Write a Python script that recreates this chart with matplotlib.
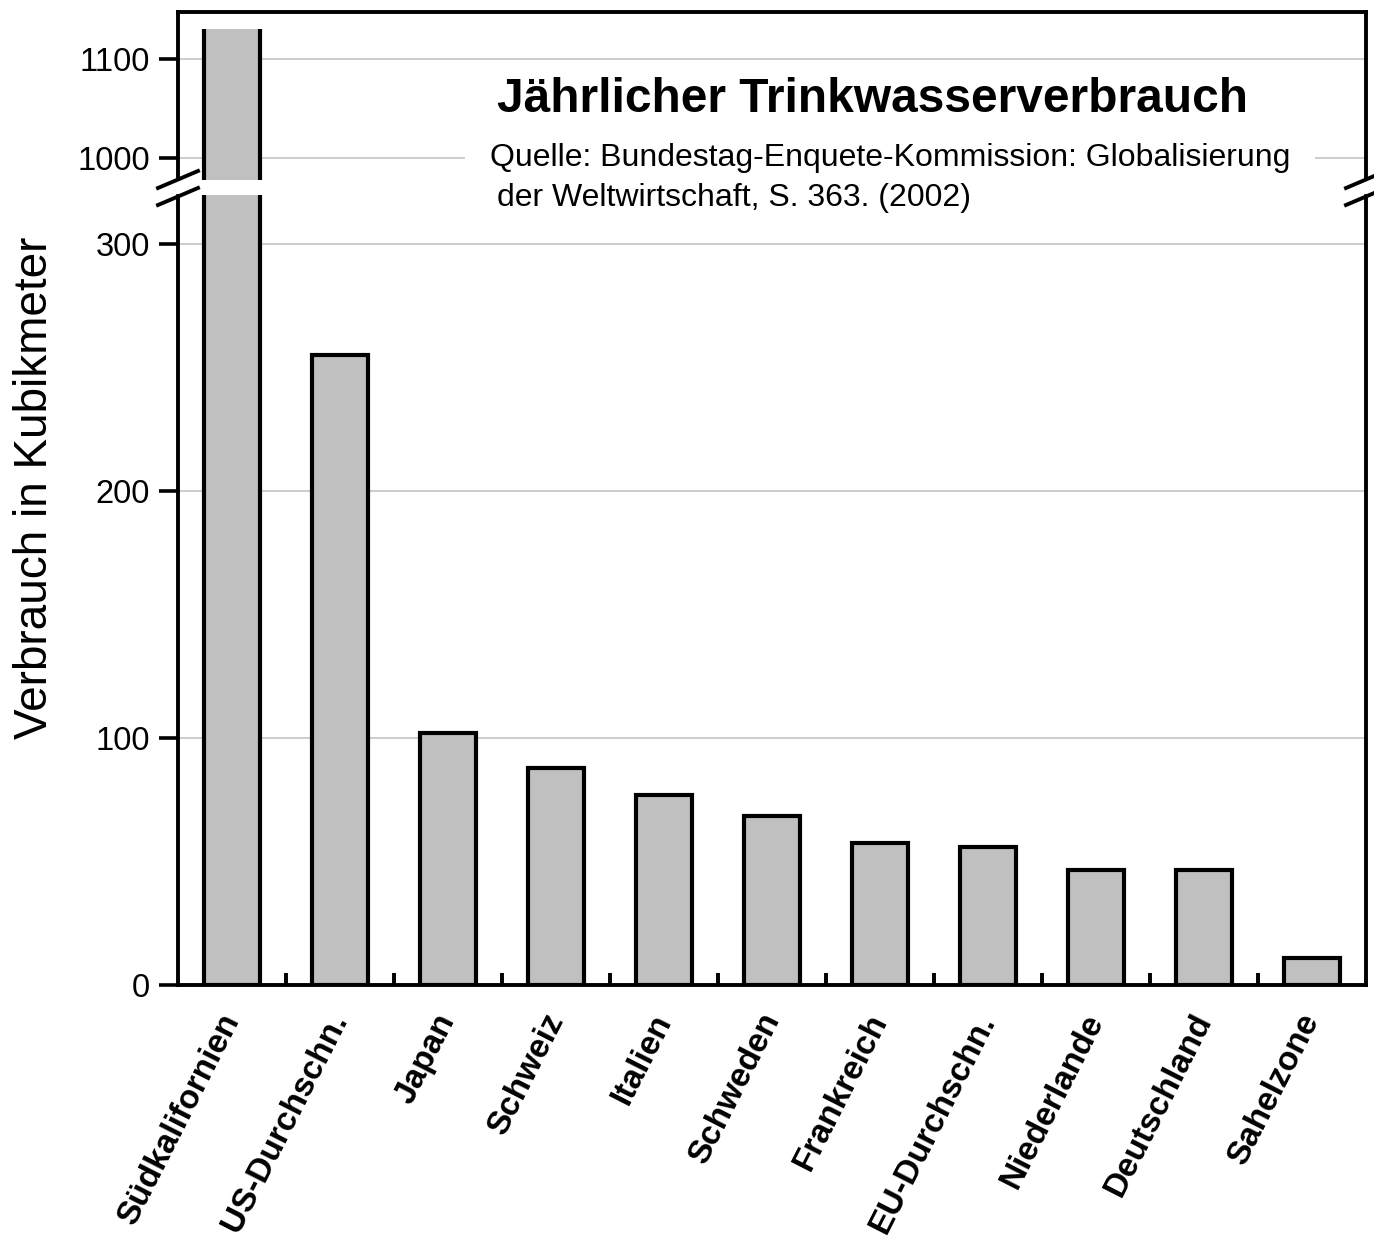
import matplotlib.pyplot as plt
import numpy as np

# Data (cubic metres per person and year)
laender = ['Südkalifornien', 'US-Durchschn.', 'Japan', 'Schweiz', 'Italien',
           'Schweden', 'Frankreich', 'EU-Durchschn.', 'Niederlande',
           'Deutschland', 'Sahelzone']
verbrauch = [1130, 255, 102, 88, 77, 68.5, 57.5, 56, 46.5, 46.5, 11]
ticks_unten = [0, 100, 200, 300]
ticks_oben = [1000, 1100]

plt.rcParams['font.family'] = ['Liberation Sans', 'DejaVu Sans']

W, H = 1374, 1253
fig = plt.figure(figsize=(W / 100, H / 100), dpi=100)

# axis geometry in pixels
x0, x1 = 178, 1366
y_bot, y_low_top, y_up_bot, y_top = 985, 195, 180, 12

ax_lo = fig.add_axes([x0 / W, 1 - y_bot / H, (x1 - x0) / W, (y_bot - y_low_top) / H])
ax_hi = fig.add_axes([x0 / W, 1 - y_up_bot / H, (x1 - x0) / W, (y_up_bot - y_top) / H])

x = np.arange(len(laender))
BAR_W = 0.51
BAR_LW = 3.0

ax_lo.bar(x, verbrauch, width=BAR_W, color='#c0c0c0', edgecolor='black',
          linewidth=BAR_LW, zorder=3)
# upper part: only the side edges of the tall bar, no top line
bars_hi = ax_hi.bar(x, verbrauch, width=BAR_W, color='#c0c0c0',
                    edgecolor='none', zorder=3)
ax_hi.set_ylim(977.5, 1147)
for b in bars_hi:
    if b.get_height() > ax_hi.get_ylim()[0]:
        ax_hi.vlines([b.get_x(), b.get_x() + b.get_width()], 0, b.get_height(),
                     color='black', linewidth=BAR_LW, zorder=4)

for ax in (ax_lo, ax_hi):
    ax.set_xlim(-0.5, len(laender) - 0.5)
    ax.grid(axis='y', color='#c8c8c8', linewidth=1.3, zorder=0)
    for s in ax.spines.values():
        s.set_linewidth(2.8)
    ax.tick_params(axis='y', direction='out', length=14, width=2.6,
                   labelsize=23.5, pad=6)

ax_lo.set_ylim(0, 320)
ax_lo.set_yticks(ticks_unten)
ax_lo.spines['top'].set_visible(False)
ax_lo.set_xticks(x)
ax_lo.set_xticklabels(laender, rotation=63, ha='right', va='center',
                      rotation_mode='anchor', fontsize=24, fontweight='bold')
ax_lo.tick_params(axis='x', length=0, pad=22)
ax_lo.set_xticks(x[:-1] + 0.5, minor=True)
ax_lo.tick_params(axis='x', which='minor', direction='in', length=9, width=2.8)

ax_hi.set_ylim(977.5, 1147)
ax_hi.set_yticks(ticks_oben)
ax_hi.spines['bottom'].set_visible(False)
ax_hi.set_xticks([])

# break marks on both sides
for xp in (x0, x1):
    fig.add_artist(plt.Rectangle(((xp - 12) / W, 1 - 193 / H), 30 / W, 12 / H,
                                 color='white', transform=fig.transFigure, zorder=5))
    for dy in (0, 17):
        fig.add_artist(plt.Line2D([(xp - 20) / W, (xp + 20) / W],
                                  [1 - (205 - dy) / H, 1 - (188 - dy) / H],
                                  color='black', linewidth=2.8,
                                  transform=fig.transFigure, clip_on=False,
                                  zorder=6))

fig.text(35 / W, 1 - 488 / H, 'Verbrauch in Kubikmeter', rotation=90,
         ha='center', va='center', fontsize=33)
fig.text(497 / W, 1 - 100 / H, 'Jährlicher Trinkwasserverbrauch',
         ha='left', va='center', fontsize=34.5, fontweight='bold')
fig.text(490 / W, 1 - 158 / H,
         'Quelle: Bundestag-Enquete-Kommission: Globalisierung',
         ha='left', va='center', fontsize=23,
         bbox=dict(facecolor='white', edgecolor='none', pad=18), zorder=10)
fig.text(497 / W, 1 - 198 / H, 'der Weltwirtschaft, S. 363. (2002)',
         ha='left', va='center', fontsize=23, zorder=10)

fig.savefig('out.png', dpi=100)
